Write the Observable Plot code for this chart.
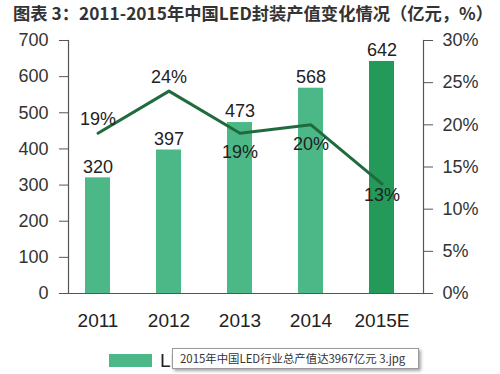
<!DOCTYPE html>
<html>
<head>
<meta charset="utf-8">
<script src="https://cdn.jsdelivr.net/npm/d3@7"></script>
<script src="https://cdn.jsdelivr.net/npm/@observablehq/plot@0.6"></script>
<style>
  html, body { margin: 0; padding: 0; background: #fff; }
  #wrap { position: relative; width: 500px; height: 374px; overflow: hidden;
    font-family: "Liberation Sans", Arial, "Noto Sans CJK SC", sans-serif; }
  #title { position: absolute; left: 13px; top: 2px; font-size: 17.3px; font-weight: bold;
    color: #333; white-space: nowrap; font-family: "Noto Sans CJK SC", sans-serif; line-height: 22px; }
  #chart { position: absolute; left: 0; top: 0; }
  #legend { position: absolute; left: 109px; top: 350px; height: 20px; display: flex; align-items: center; }
  #legend .sw { width: 43px; height: 13px; background: #4db887; margin-right: 8px; }
  #legend .lb { font-size: 19px; color: #222; line-height: 19px; font-family: "Liberation Sans", "Noto Sans CJK SC", sans-serif; }
  #tip { position: absolute; left: 172px; top: 348px; width: 238px; height: 19px; background: #fff;
    border: 1px solid #9a9a9a; box-shadow: 2px 2px 3px rgba(0,0,0,0.35);
    font-size: 11.4px; color: #333; line-height: 19px; padding-left: 7px; box-sizing: content-box;
    font-family: "Noto Sans CJK SC", sans-serif; white-space: nowrap; }
</style>
</head>
<body>
<div id="wrap">
  <div id="chart"></div>
  <div id="title">图表 3：2011-2015年中国LED封装产值变化情况（亿元，%）</div>
  <div id="legend"><div class="sw"></div><div class="lb">LED封装产值</div></div>
  <div id="tip">2015年中国LED行业总产值达3967亿元 3.jpg</div>
</div>
<script>
const years = ["2011", "2012", "2013", "2014", "2015E"];
const output = [320, 397, 473, 568, 642];      // 亿元
const growth = [19, 24, 19, 20, 13];           // %
const leftTicks = [0, 100, 200, 300, 400, 500, 600, 700];
const rightTicks = [0, 5, 10, 15, 20, 25, 30];

const yMax = 700, pMax = 30;
const toY = p => p * yMax / pMax;

const data = years.map((y, i) => ({year: y, value: output[i], pct: growth[i], i}));
const barColor = d => d.year === "2015E" ? "#23995a" : "#4db887";

const font = "Liberation Sans, Arial, sans-serif";

const plot = Plot.plot({
  width: 500,
  height: 374,
  marginTop: 40,
  marginBottom: 81,
  marginLeft: 68,
  marginRight: 77,
  style: {fontFamily: font, fontSize: "18px", color: "#333", background: "transparent"},
  x: {type: "band", domain: years, range: [59.5, 418.5], paddingInner: 0.65, paddingOuter: 0.325, label: null},
  y: {domain: [0, yMax], label: null},
  marks: [
    Plot.barY(data, {x: "year", y: "value", fill: barColor}),
    Plot.frame({anchor: "left", stroke: "#555", strokeWidth: 1.2}),
    Plot.frame({anchor: "right", stroke: "#555", strokeWidth: 1.2}),
    Plot.ruleY([0], {stroke: "#555", strokeWidth: 1.2}),
    Plot.axisY(leftTicks, {anchor: "left", tickSize: 9, tickPadding: 11, stroke: "#555", fill: "#333", fontSize: 18, label: null}),
    Plot.axisY(rightTicks.map(toY), {anchor: "right", tickSize: 9, tickPadding: 10, stroke: "#555", fill: "#333", fontSize: 18,
      tickFormat: v => Math.round(v * pMax / yMax) + "%", label: null}),
    Plot.axisX({anchor: "bottom", tickSize: 0, tickPadding: 20, fill: "#222", fontSize: 19, label: null}),
    Plot.text(data, {x: "year", y: "value", text: d => String(d.value), dy: -11, fill: "#222", fontSize: 18}),
    Plot.lineY(data, {x: "year", y: d => toY(d.pct), stroke: "#1f6b3c", strokeWidth: 3}),
    Plot.text(data.filter(d => d.i < 2), {x: "year", y: d => toY(d.pct), text: d => d.pct + "%", dy: -14, fill: "#222", fontSize: 18}),
    Plot.text(data.filter(d => d.i === 2 || d.i === 3), {x: "year", y: d => toY(d.pct), text: d => d.pct + "%", dy: 19, fill: "#222", fontSize: 18}),
    Plot.text(data.filter(d => d.i === 4), {x: "year", y: d => toY(d.pct), text: d => d.pct + "%", dy: 11, fill: "#222", fontSize: 18})
  ]
});
document.getElementById("chart").appendChild(plot);
</script>
</body>
</html>
